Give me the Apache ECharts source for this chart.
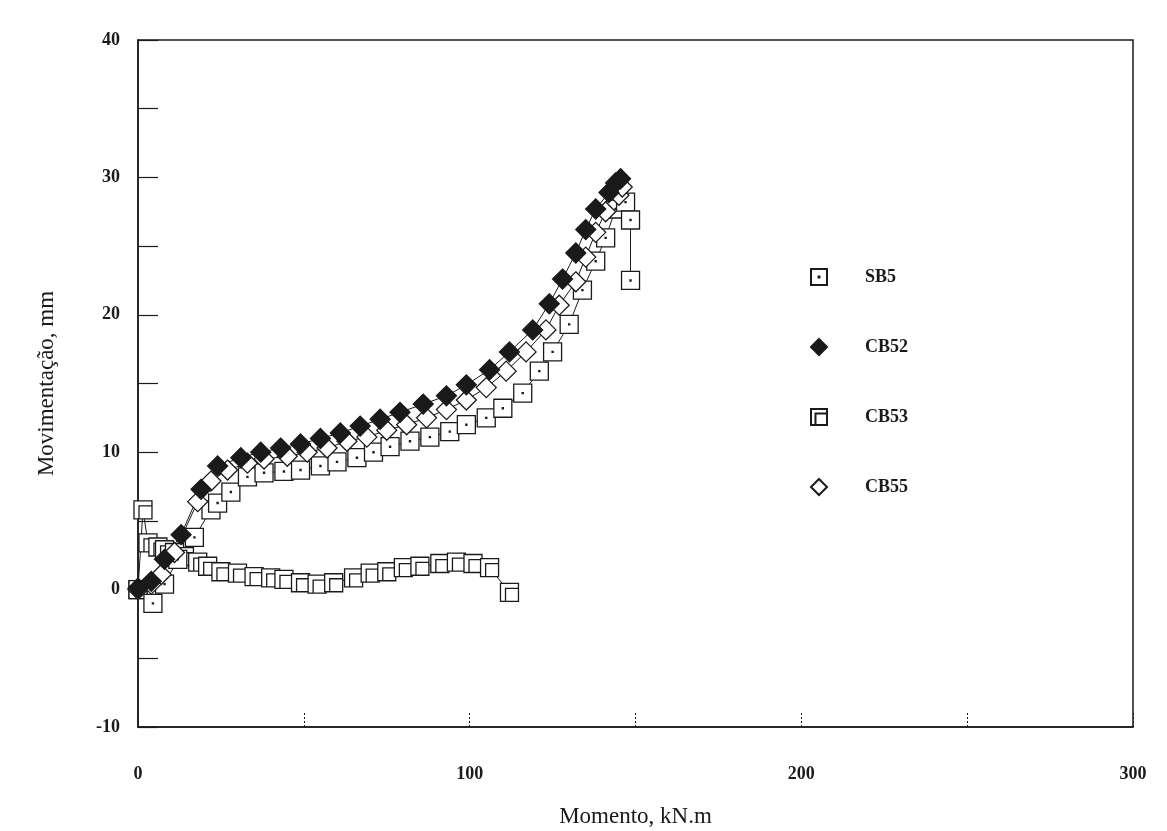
<!DOCTYPE html>
<html>
<head>
<meta charset="utf-8">
<script src="https://cdn.jsdelivr.net/npm/echarts@6/dist/echarts.min.js"></script>
<style>
  html, body { margin: 0; padding: 0; background: #fff; }
  #chart { width: 1167px; height: 831px; }
</style>
</head>
<body>
<div id="chart"></div>
<script>
// Moment (kN.m) vs. displacement (mm) for each specimen, as [moment, displacement]
const sb5 = [
  [0, 0], [4.5, -1.0], [8, 0.4], [12, 2.2], [17, 3.8], [22, 5.8], [24, 6.3],
  [28, 7.1], [33, 8.2], [38, 8.5], [44, 8.6], [49, 8.7], [55, 9.0], [60, 9.3],
  [66, 9.6], [71, 10.0], [76, 10.4], [82, 10.8], [88, 11.1], [94, 11.5],
  [99, 12.0], [105, 12.5], [110, 13.2], [116, 14.3], [121, 15.9], [125, 17.3],
  [130, 19.3], [134, 21.8], [138, 23.9], [141, 25.6], [144, 27.7], [147, 28.2],
  [148.5, 26.9], [148.5, 22.5]
];
const cb52 = [
  [0, 0.1], [4, 0.6], [8, 2.2], [13, 4.0], [19, 7.3], [24, 9.0], [31, 9.6],
  [37, 10.0], [43, 10.3], [49, 10.6], [55, 11.0], [61, 11.4], [67, 11.9],
  [73, 12.4], [79, 12.9], [86, 13.5], [93, 14.1], [99, 14.9], [106, 16.0],
  [112, 17.3], [119, 18.9], [124, 20.8], [128, 22.6], [132, 24.5],
  [135, 26.2], [138, 27.7], [142, 28.9], [144, 29.6], [145.5, 29.9]
];
const cb53 = [
  [0, 0], [1.5, 5.8], [3, 3.4], [6, 3.1], [8, 2.9], [11, 2.7], [14, 2.4],
  [18, 2.0], [21, 1.7], [25, 1.3], [30, 1.2], [35, 0.95], [40, 0.85],
  [44, 0.75], [49, 0.5], [54, 0.4], [59, 0.5], [65, 0.85], [70, 1.2],
  [75, 1.3], [80, 1.6], [85, 1.7], [91, 1.9], [96, 2.0], [101, 1.9],
  [106, 1.6], [112, -0.2]
];
const cb55 = [
  [0, 0], [4, 0.4], [7, 1.1], [11, 2.7], [18, 6.4], [22, 7.9], [27, 8.7],
  [33, 9.2], [38, 9.5], [45, 9.7], [51, 10.0], [57, 10.3], [63, 10.8],
  [69, 11.1], [75, 11.6], [81, 12.0], [87, 12.5], [93, 13.1], [99, 13.8],
  [105, 14.7], [111, 15.9], [117, 17.3], [123, 18.9], [127, 20.7],
  [132, 22.4], [135, 24.2], [138, 26.0], [141, 27.5], [145, 28.7], [146, 29.3]
];

const seriesNames = ['SB5', 'CB52', 'CB53', 'CB55'];
const xTicks = [0, 100, 200, 300];
const yTicks = [-10, 0, 10, 20, 30, 40];

// Marker shapes
const squareDot = 'path://M0,0H10V10H0Z M4.7,4.7H5.3V5.3H4.7Z';
const squareDouble = 'path://M0,0H10V10H0Z M2.8,10V2.8H10';
const ink = '#1a1a1a';
const serif = '"Liberation Serif", "DejaVu Serif", serif';

function makeSeries(name, data, symbol, fill, size) {
  return {
    name: name,
    type: 'line',
    data: data,
    symbol: symbol,
    symbolSize: size,
    showSymbol: true,
    lineStyle: { color: ink, width: 1 },
    itemStyle: { color: fill, borderColor: ink, borderWidth: 1.3 },
    emphasis: { disabled: true },
    animation: false
  };
}

const chart = echarts.init(document.getElementById('chart'));
chart.setOption({
  backgroundColor: '#fff',
  animation: false,
  grid: {
    left: 138, right: 34, top: 40, bottom: 104,
    outerBoundsMode: 'none', containLabel: false,
    show: true, borderColor: ink, borderWidth: 1.5, backgroundColor: 'transparent'
  },
  legend: {
    orient: 'vertical',
    left: 805, top: 263,
    itemWidth: 16, itemHeight: 16, itemGap: 52,
    textStyle: { fontFamily: serif, fontSize: 18, fontWeight: 'bold', color: ink, padding: [0, 0, 0, 33] },
    data: [
      { name: seriesNames[0], icon: squareDot },
      { name: seriesNames[1], icon: 'diamond' },
      { name: seriesNames[2], icon: squareDouble },
      { name: seriesNames[3], icon: 'diamond' }
    ],
    selectedMode: false
  },
  xAxis: {
    type: 'value', min: 0, max: 300, interval: 50,
    name: 'Momento, kN.m', nameLocation: 'middle', nameGap: 78,
    nameTextStyle: { fontFamily: serif, fontSize: 23, color: ink },
    axisLine: { show: true, onZero: false, lineStyle: { color: ink, width: 1.5 } },
    axisTick: { show: true, inside: true, length: 14, lineStyle: { color: ink, width: 1, type: [2, 2] } },
    axisLabel: {
      margin: 38, fontFamily: serif, fontSize: 18, fontWeight: 'bold', color: ink,
      formatter: v => xTicks.includes(v) ? String(v) : ''
    },
    splitLine: { show: false }
  },
  yAxis: {
    type: 'value', min: -10, max: 40, interval: 5,
    name: 'Movimentação, mm', nameLocation: 'middle', nameGap: 80,
    nameTextStyle: { fontFamily: serif, fontSize: 23, color: ink },
    axisLine: { show: true, onZero: false, lineStyle: { color: ink, width: 1.5 } },
    axisTick: { show: true, inside: true, length: 20, lineStyle: { color: ink, width: 1.2 } },
    axisLabel: {
      margin: 18, fontFamily: serif, fontSize: 18, fontWeight: 'bold', color: ink,
      formatter: v => yTicks.includes(v) ? String(v) : ''
    },
    splitLine: { show: false }
  },
  series: [
    makeSeries(seriesNames[2], cb53, squareDouble, '#fff', 18),
    makeSeries(seriesNames[0], sb5, squareDot, '#fff', 18),
    makeSeries(seriesNames[3], cb55, 'diamond', '#fff', 20),
    makeSeries(seriesNames[1], cb52, 'diamond', ink, 20)
  ]
});
</script>
</body>
</html>
